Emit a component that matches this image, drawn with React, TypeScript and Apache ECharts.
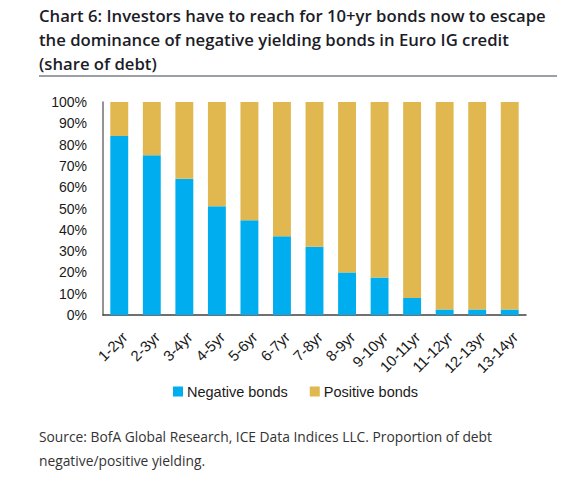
import React, { useEffect, useRef } from "react";
import * as echarts from "echarts";

const categories = ["1-2yr", "2-3yr", "3-4yr", "4-5yr", "5-6yr", "6-7yr", "7-8yr", "8-9yr", "9-10yr", "10-11yr", "11-12yr", "12-13yr", "13-14yr"];
const negative = [84, 75, 64, 51, 44.5, 37, 32, 20, 17.6, 8, 2.6, 2.6, 2.6];
const positive = negative.map((v) => +(100 - v).toFixed(1));
const yTicks = [0, 10, 20, 30, 40, 50, 60, 70, 80, 90, 100];

const titleText =
  "Chart 6: Investors have to reach for 10+yr bonds now to escape\nthe dominance of negative yielding bonds in Euro IG credit\n(share of debt)";
const sourceText =
  "Source: BofA Global Research, ICE Data Indices LLC. Proportion of debt\nnegative/positive yielding.";

export default function App() {
  const ref = useRef<HTMLDivElement>(null);
  useEffect(() => {
    if (!ref.current) return;
    const chart = echarts.init(ref.current, null, { renderer: "svg" });
    chart.setOption({
      animation: false,
      backgroundColor: "#ffffff",
      title: {
        text: titleText,
        left: 34,
        top: -2,
        textStyle: {
          fontFamily: "Open Sans",
          fontWeight: 600,
          fontSize: 16.7,
          lineHeight: 24,
          color: "#1c1c28",
        },
      },
      graphic: [
        {
          type: "line",
          shape: { x1: 39, y1: 76, x2: 557, y2: 76 },
          style: { stroke: "#7a7f8c", lineWidth: 1.5 },
        },
        {
          type: "text",
          left: 39,
          top: 424,
          style: {
            text: sourceText,
            fontFamily: "Open Sans",
            fontSize: 13.8,
            lineHeight: 24,
            fill: "#333333",
          },
        },
      ],
      legend: {
        data: ["Negative bonds", "Positive bonds"],
        left: 168,
        top: 379,
        icon: "rect",
        itemWidth: 10,
        itemHeight: 10,
        itemGap: 22,
        textStyle: { fontFamily: "Liberation Sans, Arial", fontSize: 14.5, color: "#1a1a1a", padding: [0, 0, 0, -1] },
      },
      grid: { left: 103, right: 51, top: 102, bottom: 165 },
      xAxis: {
        type: "category",
        data: categories,
        axisLine: { lineStyle: { color: "#404040", width: 1.5 } },
        axisTick: { show: false },
        axisLabel: {
          rotate: 45,
          interval: 0,
          margin: 14,
          verticalAlign: "top",
          fontFamily: "Liberation Sans, Arial",
          fontSize: 15,
          color: "#1a1a1a",
        },
      },
      yAxis: {
        type: "value",
        min: 0,
        max: 100,
        interval: 10,
        axisLine: { show: true, lineStyle: { color: "#707070", width: 1.5 } },
        axisTick: { show: false },
        splitLine: { show: false },
        axisLabel: {
          margin: 16,
          fontFamily: "Liberation Sans, Arial",
          fontSize: 14,
          color: "#1a1a1a",
          formatter: (v: number) => (yTicks.includes(v) ? v + "%" : ""),
        },
      },
      series: [
        {
          name: "Negative bonds",
          type: "bar",
          stack: "total",
          barWidth: "55%",
          data: negative,
          itemStyle: { color: "#00AEEF" },
        },
        {
          name: "Positive bonds",
          type: "bar",
          stack: "total",
          barWidth: "55%",
          data: positive,
          itemStyle: { color: "#E1B74F" },
        },
      ],
    });
    return () => chart.dispose();
  }, []);
  return (
    <div
      ref={ref}
      style={{ position: "absolute", left: 0, top: 0, width: 577, height: 480 }}
    />
  );
}
